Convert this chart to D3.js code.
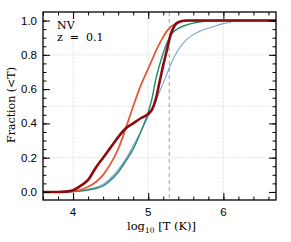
<!DOCTYPE html>
<html>
<head>
<meta charset="utf-8">
<script src="https://cdn.jsdelivr.net/npm/d3@7"></script>
<style>
  body { margin: 0; background: #fff; }
  svg { display: block; }
  .tick-label { font-family: "Liberation Sans", Arial, sans-serif; font-size: 11.5px; fill: #000; }
  .serif { font-family: "DejaVu Serif", "Liberation Serif", serif; fill: #000; }
</style>
</head>
<body>
<svg width="291" height="242"></svg>
<script>
// log10 T grid shared by all curves
const logT = [3.6, 3.8, 3.9, 4.0, 4.1, 4.2, 4.3, 4.4, 4.5, 4.6, 4.7, 4.8, 4.9, 5.0, 5.05, 5.1, 5.15, 5.2, 5.25, 5.3, 5.35, 5.4, 5.5, 5.6, 5.7, 5.8, 5.9, 6.0, 6.1, 6.2, 6.4, 6.7]

// cumulative fractions (<T)
const orangeFrac = [0, 0, 0.001, 0.004, 0.012, 0.03, 0.057, 0.1, 0.165, 0.25, 0.37, 0.5, 0.62, 0.72, 0.77, 0.82, 0.865, 0.905, 0.94, 0.963, 0.979, 0.99, 0.998, 1, 1, 1, 1, 1, 1, 1, 1, 1]
const tealFrac = [0, 0, 0, 0.002, 0.005, 0.012, 0.02, 0.035, 0.068, 0.115, 0.18, 0.25, 0.35, 0.465, 0.545, 0.655, 0.74, 0.81, 0.87, 0.915, 0.94, 0.955, 0.973, 0.985, 0.993, 0.998, 1, 1, 1, 1, 1, 1]
const blueFrac = [0, 0, 0.001, 0.003, 0.007, 0.015, 0.026, 0.045, 0.08, 0.13, 0.19, 0.27, 0.35, 0.44, 0.48, 0.53, 0.585, 0.635, 0.69, 0.745, 0.79, 0.83, 0.885, 0.918, 0.94, 0.955, 0.97, 0.982, 0.992, 0.998, 1, 1]
const darkFrac = [0, 0, 0.002, 0.01, 0.035, 0.07, 0.14, 0.2, 0.26, 0.32, 0.37, 0.4, 0.43, 0.455, 0.48, 0.54, 0.64, 0.74, 0.83, 0.92, 0.97, 0.99, 1, 1, 1, 1, 1, 1, 1, 1, 1, 1]

const series = [
  { name: 'blue', values: blueFrac, color: '#76a5d1', width: 1.1 },
  { name: 'teal', values: tealFrac, color: '#2a8a74', width: 1.5 },
  { name: 'orange', values: orangeFrac, color: '#e2583a', width: 1.8 },
  { name: 'dark', values: darkFrac, color: '#8a0c0c', width: 2.6 }
]

const xTicks = [4, 5, 6]
const yTicks = [0.0, 0.2, 0.4, 0.6, 0.8, 1.0]
const xGrid = [4, 5, 6]
const yGrid = [0.2, 0.5, 0.8]
const markerT = 5.28 // dashed vertical line

const margin = { left: 43, right: 15, top: 12, bottom: 42 }
const width = 291 - margin.left - margin.right
const height = 242 - margin.top - margin.bottom

const svg = d3.select('svg')
const chart = svg.append('g').attr('transform', `translate(${margin.left}, ${margin.top})`)

const xScale = d3.scaleLinear().domain([3.6, 6.7]).range([0, width])
const yScale = d3.scaleLinear().domain([-0.047, 1.05]).range([height, 0])

// dotted grid
chart.selectAll('.xgrid').data(xGrid).enter().append('line')
  .attr('x1', d => xScale(d)).attr('x2', d => xScale(d))
  .attr('y1', 0).attr('y2', height)
  .attr('stroke', '#c8c8c8').attr('stroke-width', 0.8).attr('stroke-dasharray', '1,1.5')
chart.selectAll('.ygrid').data(yGrid).enter().append('line')
  .attr('x1', 0).attr('x2', width)
  .attr('y1', d => yScale(d)).attr('y2', d => yScale(d))
  .attr('stroke', '#c8c8c8').attr('stroke-width', 0.8).attr('stroke-dasharray', '1,1.5')

// dashed marker
chart.append('line')
  .attr('x1', xScale(markerT)).attr('x2', xScale(markerT))
  .attr('y1', 0).attr('y2', height)
  .attr('stroke', '#a0a0a0').attr('stroke-width', 1).attr('stroke-dasharray', '4,3')

// curves
const line = d3.line()
  .x((d, i) => xScale(logT[i]))
  .y(d => yScale(d))
  .curve(d3.curveMonotoneX)

chart.selectAll('.curve').data(series).enter().append('path')
  .attr('d', s => line(s.values))
  .attr('fill', 'none')
  .attr('stroke', s => s.color)
  .attr('stroke-width', s => s.width)
  .attr('stroke-linejoin', 'round')

// axes with inward ticks on all four sides
const xMinor = d3.range(3.6, 6.71, 0.2)
const yMinor = d3.range(0, 1.001, 0.05)

chart.append('g').attr('transform', `translate(0, ${height})`)
  .call(d3.axisBottom(xScale).tickValues(xMinor).tickSize(-3.5).tickFormat(''))
chart.append('g').attr('transform', `translate(0, ${height})`)
  .call(d3.axisBottom(xScale).tickValues(xTicks).tickSize(-7).tickFormat(''))
chart.append('g')
  .call(d3.axisTop(xScale).tickValues(xMinor).tickSize(-3.5).tickFormat(''))
chart.append('g')
  .call(d3.axisTop(xScale).tickValues(xTicks).tickSize(-7).tickFormat(''))
chart.append('g')
  .call(d3.axisLeft(yScale).tickValues(yMinor).tickSize(-3.5).tickFormat(''))
chart.append('g')
  .call(d3.axisLeft(yScale).tickValues(yTicks).tickSize(-7).tickFormat(''))
chart.append('g').attr('transform', `translate(${width}, 0)`)
  .call(d3.axisRight(yScale).tickValues(yMinor).tickSize(-3.5).tickFormat(''))
chart.append('g').attr('transform', `translate(${width}, 0)`)
  .call(d3.axisRight(yScale).tickValues(yTicks).tickSize(-7).tickFormat(''))

chart.selectAll('.domain').remove()
chart.selectAll('.tick line').attr('stroke', '#000').attr('stroke-width', 1)

// frame
chart.append('rect')
  .attr('width', width).attr('height', height)
  .attr('fill', 'none').attr('stroke', '#000').attr('stroke-width', 1.3)

// tick labels
chart.selectAll('.xlab').data(xTicks).enter().append('text')
  .attr('class', 'tick-label')
  .attr('x', d => xScale(d)).attr('y', height + 16)
  .attr('text-anchor', 'middle')
  .text(d => d)
chart.selectAll('.ylab').data(yTicks).enter().append('text')
  .attr('class', 'tick-label')
  .attr('x', -6).attr('y', d => yScale(d) + 4)
  .attr('text-anchor', 'end')
  .text(d => d.toFixed(1))

// annotations
chart.append('text').attr('class', 'serif').attr('font-size', 11)
  .attr('x', 14).attr('y', 17).text('NV')
chart.append('text').attr('class', 'serif').attr('font-size', 11)
  .style('white-space', 'pre')
  .attr('x', 14).attr('y', 29).text('z  =  0.1')

// axis titles
const xTitle = svg.append('text').attr('class', 'serif').attr('font-size', 11.5)
  .attr('x', margin.left + width / 2 + 2).attr('y', 230)
  .attr('text-anchor', 'middle')
xTitle.append('tspan').text('log')
xTitle.append('tspan').attr('font-size', 7.5).attr('dy', 3).text('10')
xTitle.append('tspan').attr('dy', -3).text(' [T (K)]')

svg.append('text').attr('class', 'serif').attr('font-size', 11)
  .attr('transform', `translate(15, 105) rotate(-90)`)
  .attr('text-anchor', 'middle')
  .text('Fraction (<T)')
</script>
</body>
</html>
